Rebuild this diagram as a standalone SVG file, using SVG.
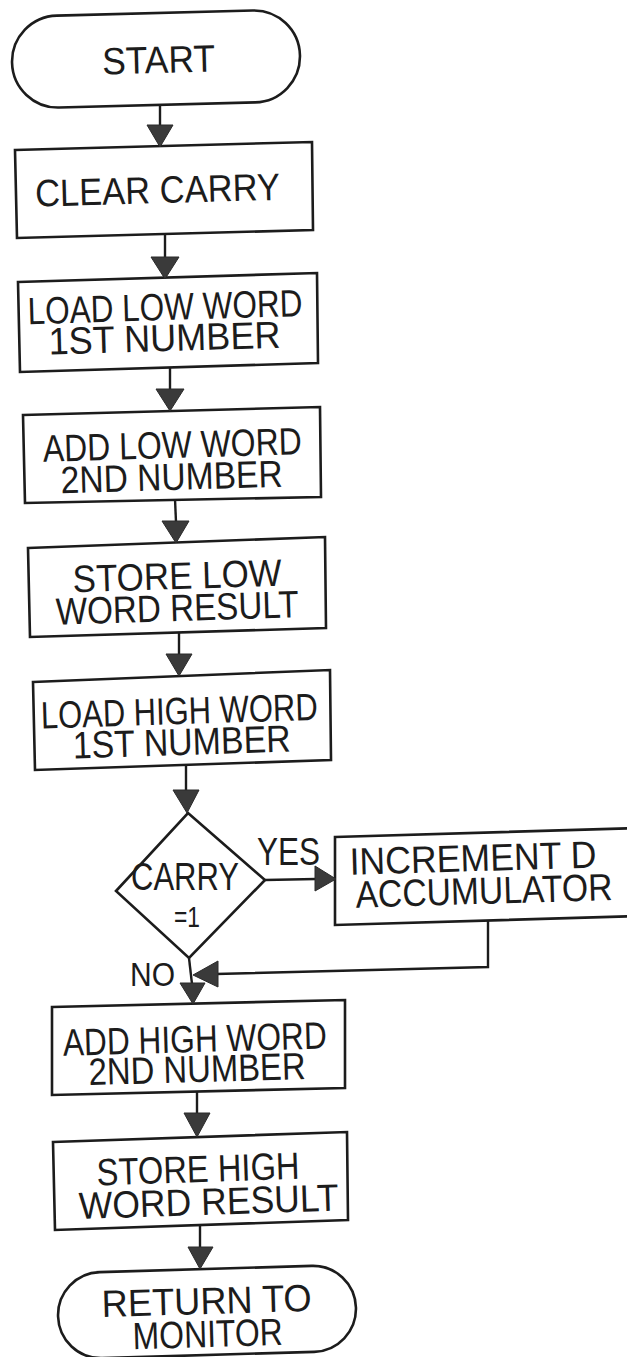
<svg xmlns="http://www.w3.org/2000/svg" width="627" height="1357" viewBox="0 0 627 1357">
<style>
.box{fill:none;stroke:#1c1c1c;stroke-width:2.6;stroke-linejoin:miter}
.t{font-family:"Liberation Sans",Arial,sans-serif;font-size:38px;fill:#1c1c1c;text-anchor:middle}
.ts{font-family:"Liberation Sans",Arial,sans-serif;font-size:38px;fill:#1c1c1c;text-anchor:start}
.ln{fill:none;stroke:#1c1c1c;stroke-width:2.4}
.ah{fill:#3a3a3a;stroke:#2a2a2a;stroke-width:1;stroke-linejoin:round}
</style>
<rect width="627" height="1357" fill="#ffffff"/>
<g id="start">
<rect class="box" x="12" y="13" width="288" height="92" rx="46" transform="rotate(-1.5 156 59)"/>
<text class="t" x="158.5" y="73" textLength="113" lengthAdjust="spacingAndGlyphs" transform="rotate(-1.5 156 59)">START</text>
</g>
<g id="clear-carry">
<polygon class="box" points="15,150 312,142 313,230 17,238"/>
<text class="t" x="157.5" y="203" textLength="245" lengthAdjust="spacingAndGlyphs" transform="rotate(-1.6 164 190)">CLEAR CARRY</text>
</g>
<g id="load-low">
<polygon class="box" points="18,282 317,273 318,363 20,372"/>
<g transform="rotate(-1.7 168 322)">
<text class="t" x="165.5" y="320" textLength="275" lengthAdjust="spacingAndGlyphs">LOAD LOW WORD</text>
<text class="t" x="164" y="351" textLength="232" lengthAdjust="spacingAndGlyphs">1ST NUMBER</text>
</g>
</g>
<g id="add-low">
<polygon class="box" points="23,415 320,407 321,497 25,503"/>
<g transform="rotate(-1.7 172 455)">
<text class="t" x="172.5" y="458" textLength="259" lengthAdjust="spacingAndGlyphs">ADD LOW WORD</text>
<text class="t" x="171" y="490" textLength="222" lengthAdjust="spacingAndGlyphs">2ND NUMBER</text>
</g>
</g>
<g id="store-low">
<polygon class="box" points="28,548 325,537 326,628 30,637"/>
<g transform="rotate(-1.8 177 587)">
<text class="t" x="177.5" y="589" textLength="209" lengthAdjust="spacingAndGlyphs">STORE LOW</text>
<text class="t" x="176.5" y="621" textLength="243" lengthAdjust="spacingAndGlyphs">WORD RESULT</text>
</g>
</g>
<g id="load-high">
<polygon class="box" points="33,682 330,670 331,760 35,770"/>
<g transform="rotate(-1.8 182 720)">
<text class="t" x="179.5" y="724" textLength="277" lengthAdjust="spacingAndGlyphs">LOAD HIGH WORD</text>
<text class="t" x="181" y="755" textLength="218" lengthAdjust="spacingAndGlyphs">1ST NUMBER</text>
</g>
</g>
<g id="carry-decision">
<polygon class="box" points="188,813 265,880 189,958 116,891"/>
<text class="t" x="185" y="890" textLength="108" lengthAdjust="spacingAndGlyphs">CARRY</text>
<text class="t" x="187" y="927" style="font-size:30px" textLength="26" lengthAdjust="spacingAndGlyphs">=1</text>
</g>
<g id="increment-d">
<polygon class="box" points="335,837 640,828 640,916 335,925"/>
<g transform="rotate(-1.7 480 876)">
<text class="ts" x="350" y="871" textLength="247" lengthAdjust="spacingAndGlyphs">INCREMENT D</text>
<text class="ts" x="355" y="904" textLength="257" lengthAdjust="spacingAndGlyphs">ACCUMULATOR</text>
</g>
</g>
<g id="add-high">
<polygon class="box" points="52,1007 345,1000 345,1088 52,1095"/>
<g transform="rotate(-1.6 198 1047)">
<text class="t" x="195" y="1052" textLength="264" lengthAdjust="spacingAndGlyphs">ADD HIGH WORD</text>
<text class="t" x="196.5" y="1082" textLength="217" lengthAdjust="spacingAndGlyphs">2ND NUMBER</text>
</g>
</g>
<g id="store-high">
<polygon class="box" points="53,1142 347,1132 348,1220 55,1230"/>
<g transform="rotate(-1.9 201 1181)">
<text class="t" x="198.5" y="1182" textLength="203" lengthAdjust="spacingAndGlyphs">STORE HIGH</text>
<text class="t" x="208" y="1215" textLength="260" lengthAdjust="spacingAndGlyphs">WORD RESULT</text>
</g>
</g>
<g id="return">
<rect class="box" x="58" y="1269" width="298" height="86" rx="43" transform="rotate(-1.7 207 1312)"/>
<g transform="rotate(-1.7 207 1312)">
<text class="t" x="207" y="1314" textLength="210" lengthAdjust="spacingAndGlyphs">RETURN TO</text>
<text class="t" x="207" y="1347" textLength="150" lengthAdjust="spacingAndGlyphs">MONITOR</text>
</g>
</g>
<g id="connectors">
<path class="ln" d="M160,104 L160,126"/>
<polygon class="ah" points="147,125 173,125 160,147"/>
<path class="ln" d="M165,234 L165,258"/>
<polygon class="ah" points="151,257 179,257 165,279"/>
<path class="ln" d="M170,367 L170,390"/>
<polygon class="ah" points="156,389 184,389 170,411"/>
<path class="ln" d="M175,499 L176,522"/>
<polygon class="ah" points="162,521 189,521 176,543"/>
<path class="ln" d="M179,633 L179,655"/>
<polygon class="ah" points="166,654 192,654 179,676"/>
<path class="ln" d="M186,765 L186,790"/>
<polygon class="ah" points="173,790 199,790 187,813"/>
<path class="ln" d="M265,880 L316,879"/>
<polygon class="ah" points="315,866 315,891 336,879"/>
<path class="ln" d="M488,921 L488,967 L216,974"/>
<polygon class="ah" points="218,961 218,987 193,975"/>
<path class="ln" d="M189,958 L192,984"/>
<polygon class="ah" points="180,983 205,983 193,1004"/>
<path class="ln" d="M197,1091 L197,1113"/>
<polygon class="ah" points="184,1113 210,1113 197,1137"/>
<path class="ln" d="M200,1226 L200,1247"/>
<polygon class="ah" points="188,1247 213,1247 200,1269"/>
<text class="t" x="288.5" y="865" textLength="63" lengthAdjust="spacingAndGlyphs">YES</text>
<text class="t" x="152.5" y="986" style="font-size:34px" textLength="45" lengthAdjust="spacingAndGlyphs">NO</text>
</g>
</svg>
